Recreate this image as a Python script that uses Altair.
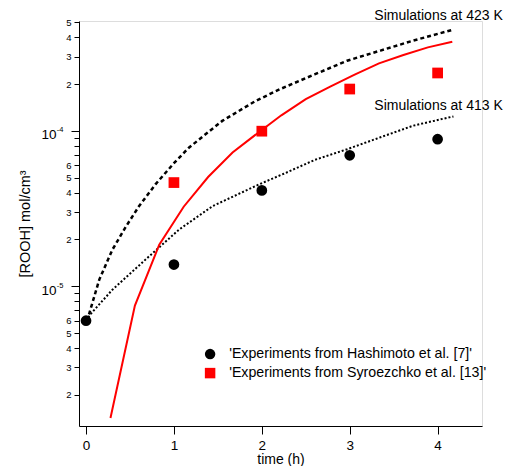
import altair as alt
import pandas as pd

# Experimental data
t_hashimoto = [0, 1, 2, 3, 4]
v_hashimoto = [6.0e-6, 1.38e-5, 4.14e-5, 6.97e-5, 8.84e-5]
t_syro = [1, 2, 3, 4]
v_syro = [4.65e-5, 9.96e-5, 1.86e-4, 2.36e-4]

# Simulations at 423 K (dashed black)
t_423 = [0, 0.034, 0.15, 0.30, 0.45, 0.60, 0.79, 1.0, 1.17, 1.55, 1.93, 2.21, 2.6, 2.97, 3.35, 3.72, 4.18]
v_423 = [6.0e-6, 6.6e-6, 1.1e-5, 1.72e-5, 2.4e-5, 3.26e-5, 4.53e-5, 6.2e-5, 7.8e-5, 1.16e-4,
         1.56e-4, 1.86e-4, 2.31e-4, 2.83e-4, 3.29e-4, 3.81e-4, 4.49e-4]

# Simulations at 413 K (dotted black)
t_413 = [0, 0.05, 0.3, 0.68, 1.06, 1.44, 1.97, 2.25, 2.6, 2.97, 3.35, 3.72, 4.18]
v_413 = [6.0e-6, 6.6e-6, 9.5e-6, 1.49e-5, 2.32e-5, 3.28e-5, 4.53e-5, 5.3e-5,
         6.5e-5, 7.62e-5, 9.1e-5, 1.08e-4, 1.24e-4]

# Red simulation curve
t_red = [0.278, 0.556, 0.833, 1.111, 1.389, 1.667, 1.944, 2.222, 2.5, 2.778, 3.056, 3.333, 3.611, 3.889, 4.167]
v_red = [1.42e-6, 7.5e-6, 1.85e-5, 3.25e-5, 5.05e-5, 7.26e-5, 9.6e-5, 1.26e-4, 1.6e-4, 1.93e-4,
         2.3e-4, 2.72e-4, 3.08e-4, 3.45e-4, 3.75e-4]

series_names = ["'Experiments from Hashimoto et al. [7]'", "'Experiments from Syroezchko et al. [13]'"]

ann_text = ["Simulations at 423 K", "Simulations at 413 K"]
ann_t = [3.28, 3.28]
ann_v = [5.5e-4, 1.44e-4]

x_ticks = [0, 1, 2, 3, 4]
y_minor_ticks = [2e-6, 3e-6, 4e-6, 5e-6, 6e-6, 7e-6, 8e-6, 9e-6,
                 2e-5, 3e-5, 4e-5, 5e-5, 6e-5, 7e-5, 8e-5, 9e-5,
                 2e-4, 3e-4, 4e-4, 5e-4]
y_major_ticks = [1e-5, 1e-4]

FONT = "Liberation Sans"

pts = pd.DataFrame({
    "t": t_hashimoto + t_syro,
    "v": v_hashimoto + v_syro,
    "series": [series_names[0]] * len(t_hashimoto) + [series_names[1]] * len(t_syro),
})
d423 = pd.DataFrame({"t": t_423, "v": v_423})
d413 = pd.DataFrame({"t": t_413, "v": v_413})
dred = pd.DataFrame({"t": t_red, "v": v_red})
dann = pd.DataFrame({"t": ann_t, "v": ann_v, "label": ann_text})

mant = "round(datum.value/pow(10,floor(log(datum.value)/LN10+1e-6)))"
minor_expr = f"{mant} <= 6 ? '' + {mant} : ''"
exp_expr = "datum.value < 5e-5 ? '-5' : '-4'"

x_scale = alt.Scale(domain=[-0.08, 4.505], nice=False, zero=False)
y_scale = alt.Scale(type="log", domain=[1.26e-6, 5.1e-4], nice=False)

common = dict(grid=False, labelFont=FONT, titleFont=FONT, domainColor="black", tickColor="black",
              labelColor="black", titleColor="black", titleFontWeight="normal")

x_axis = alt.Axis(values=x_ticks, format="d", tickSize=8, labelPadding=4, labelFontSize=13.5,
                  title="time (h)", titleFontSize=14, titlePadding=1, **common)
y_axis_minor = alt.Axis(values=y_minor_ticks, tickSize=5, labelPadding=3, labelExpr=minor_expr,
                        labelFontSize=9.5, title=None, orient="left", **common)
y_axis_major = alt.Axis(values=y_major_ticks, tickSize=8, labelPadding=15, labelExpr="'10'",
                        labelFontSize=13.5, labelOffset=4, title="[ROOH] mol/cm³", titleFontSize=14.5,
                        titlePadding=8, orient="left", domain=False, **common)
y_axis_exp = alt.Axis(values=y_major_ticks, ticks=False, tickSize=0, labelPadding=16, labelExpr=exp_expr,
                      labelFontSize=7.5, labelOffset=-1, title=None, orient="left", domain=False, **common)

line423 = alt.Chart(d423).mark_line(color="black", strokeWidth=2.5, strokeDash=[4, 3]).encode(
    x=alt.X("t:Q", scale=x_scale, axis=x_axis), y=alt.Y("v:Q", scale=y_scale, axis=y_axis_minor))
line413 = alt.Chart(d413).mark_line(color="black", strokeWidth=2, strokeDash=[2, 2]).encode(
    x="t:Q", y=alt.Y("v:Q", axis=y_axis_exp))
linered = alt.Chart(dred).mark_line(color="#ff0000", strokeWidth=2).encode(
    x="t:Q", y=alt.Y("v:Q", axis=y_axis_major))

points = alt.Chart(pts).mark_point(filled=True, opacity=1, size=115).encode(
    x="t:Q", y=alt.Y("v:Q", axis=None),
    color=alt.Color("series:N", scale=alt.Scale(domain=series_names, range=["black", "#ff0000"]),
                    legend=alt.Legend(title=None, orient="none", legendX=124, legendY=326,
                                      labelFont=FONT, labelFontSize=14.2, labelColor="black",
                                      labelLimit=400, symbolSize=110, rowPadding=4, labelOffset=12,
                                      padding=0, symbolStrokeWidth=0)),
    shape=alt.Shape("series:N", scale=alt.Scale(domain=series_names, range=["circle", "square"])),
)

ann = alt.Chart(dann).mark_text(align="left", baseline="middle", font=FONT, fontSize=14,
                                color="black").encode(
    x="t:Q", y=alt.Y("v:Q", axis=None), text="label:N")

chart = alt.layer(line423, line413, linered, points, ann).resolve_axis(y="independent").properties(
    width=403, height=405,
    autosize=alt.AutoSizeParams(type="none"),
    padding={"left": 71, "top": 13, "right": 23, "bottom": 40},
).configure_view(stroke=None).configure(background="white")

chart.save("out.html", embed_options={"renderer": "svg", "actions": False})
